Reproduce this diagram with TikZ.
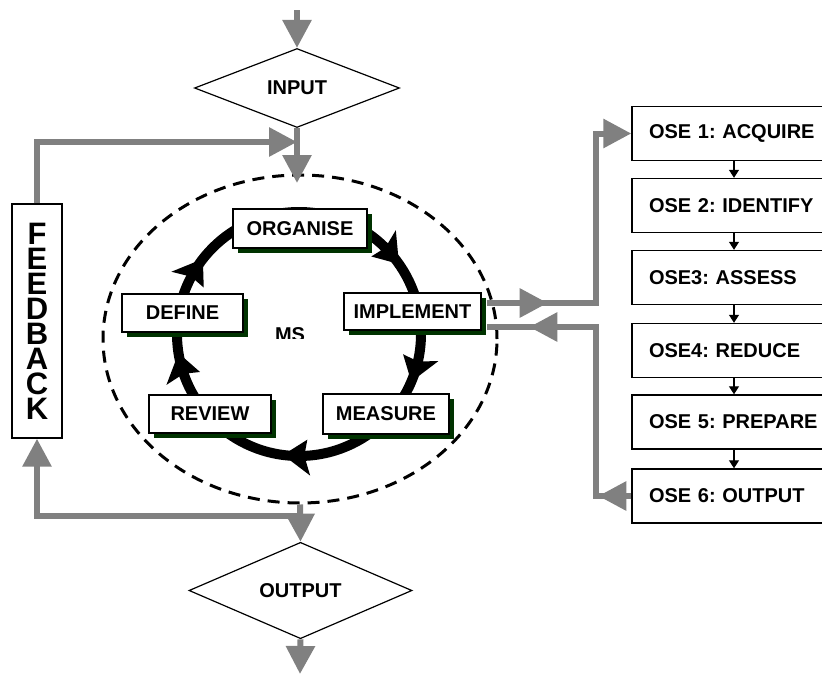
\documentclass[tikz,border=0pt]{standalone}
\usepackage{fontspec}
\setmainfont{Liberation Sans}
\usetikzlibrary{shapes.geometric,arrows.meta,shadows,decorations.markings,calc}
\definecolor{shgreen}{RGB}{0,51,0}
\definecolor{lgray}{RGB}{128,128,128}
\begin{document}
\frenchspacing
\begin{tikzpicture}[x=1pt,y=-1pt,
  lbl/.style={font=\fontsize{20}{23}\selectfont\bfseries},
  msbox/.style={lbl, draw=black, line width=1.4, fill=white, inner sep=0,
    drop shadow={shadow xshift=5pt, shadow yshift=-5pt, fill=shgreen, opacity=1}},
  osebox/.style={lbl, draw=black, line width=1.4, fill=white, text width=170pt,
    inner xsep=17pt, inner ysep=0pt, minimum height=54pt, align=left},
  dia/.style={lbl, draw=black, line width=1.2, diamond, inner sep=0pt, fill=white},
  gtip/.style={-{Triangle[length=28pt,width=28pt]}},
  gpath/.style={draw=lgray, color=lgray, line width=6pt},
  garrow/.style={gpath, gtip},
  smallarrow/.style={draw=black, line width=1.2, -{Triangle[length=8pt,width=10pt]}},
  loopline/.style={draw=black, line width=10pt}
]
\useasboundingbox (0,0) rectangle (822,675);
\clip (0,0) rectangle (822,675);

% coordinates
\coordinate (top) at (297,10);
\coordinate (msin) at (297,183);
\coordinate (fbin) at (297,142);
\coordinate (split) at (300,516);
\coordinate (bot) at (300,674);
\coordinate (c) at (299,334);

% dashed boundary
\node[draw=black, ellipse, line width=3pt, dash pattern=on 12pt off 8pt,
  minimum width=394pt, minimum height=328pt, inner sep=0pt] (ell) at (300,339) {};

% black management loop (clockwise)
\draw[loopline] (c) circle[radius=122];
\foreach \t in {-35,23,97.5,171,218}{
  \fill[black] ($(c)+(\t:122)$) -- ($(c)+({\t-12}:142)$) -- ($(c)+({\t-10}:122)$)
     -- ($(c)+({\t-12}:106)$) -- cycle;
}

% MS label (partly hidden)
\begin{scope}
\clip (250,300) rectangle (340,338);
\node[lbl, anchor=base] (ms) at (290,341) {MS};
\end{scope}

% MS boxes
\node[msbox, minimum width=134pt, minimum height=39pt] (organise) at (300,228.5) {ORGANISE};
\node[msbox, minimum width=137pt, minimum height=37pt] (implement) at (412.5,311.5) {IMPLEMENT};
\node[msbox, minimum width=121pt, minimum height=38pt] (define) at (182.5,313) {DEFINE};
\node[msbox, minimum width=122pt, minimum height=38pt] (review) at (210,414) {REVIEW};
\node[msbox, minimum width=126pt, minimum height=40pt] (measure) at (386,414) {MEASURE};

% input / output diamonds
\node[dia, minimum width=205pt, minimum height=79pt] (input) at (297,88) {INPUT};
\node[dia, minimum width=223pt, minimum height=95pt] (output) at (300.5,590.5) {OUTPUT};

% feedback box
\node[draw=black, line width=1.4, fill=white, minimum width=50pt, minimum height=234pt,
  inner sep=0pt, align=center, font=\fontsize{31}{25}\selectfont\bfseries]
  (fb) at (37,321) {F\\E\\E\\D\\B\\A\\C\\K};

% OSE boxes
\node[osebox] (ose1) at (734,133.5) {OSE 1: ACQUIRE};
\node[osebox] (ose2) at (734,205.5) {OSE 2: IDENTIFY};
\node[osebox] (ose3) at (734,277.5) {OSE3: ASSESS};
\node[osebox] (ose4) at (734,350.5) {OSE4: REDUCE};
\node[osebox] (ose5) at (734,422) {OSE 5: PREPARE};
\node[osebox] (ose6) at (734,496) {OSE 6: OUTPUT};

\draw[smallarrow] (ose1.south) -- (ose2.north);
\draw[smallarrow] (ose2.south) -- (ose3.north);
\draw[smallarrow] (ose3.south) -- (ose4.north);
\draw[smallarrow] (ose4.south) -- (ose5.north);
\draw[smallarrow] (ose5.south) -- (ose6.north);

% gray flow connectors
\draw[garrow] (top) -- (input.north);
\draw[garrow] (input.south) -- (msin);
\draw[garrow] (fb.north) |- (fbin);
\draw[garrow] (ell.south) -- (output.north);
\draw[garrow] (split) -| (fb.south);
\draw[garrow] (output.south) -- (bot);

\coordinate (i1) at ($(implement.east)+(5,-8.5)$);
\coordinate (i2) at ($(implement.east)+(5,15.5)$);
\draw[garrow, postaction={decorate}, decoration={markings,
   mark=at position 61pt with {\arrow{Triangle[length=28pt,width=28pt]}}}]
  (i1) -| ([xshift=-35pt]ose1.west) -- (ose1.west);
\draw[gpath, postaction={decorate}, decoration={markings,
   mark=at position 33pt with {\arrow{Triangle[length=28pt,width=28pt]}},
   mark=at position 271pt with {\arrow{Triangle[length=28pt,width=28pt]}}}]
  (ose6.west) -- ([xshift=-35pt]ose6.west) |- (i2);
\end{tikzpicture}
\end{document}
